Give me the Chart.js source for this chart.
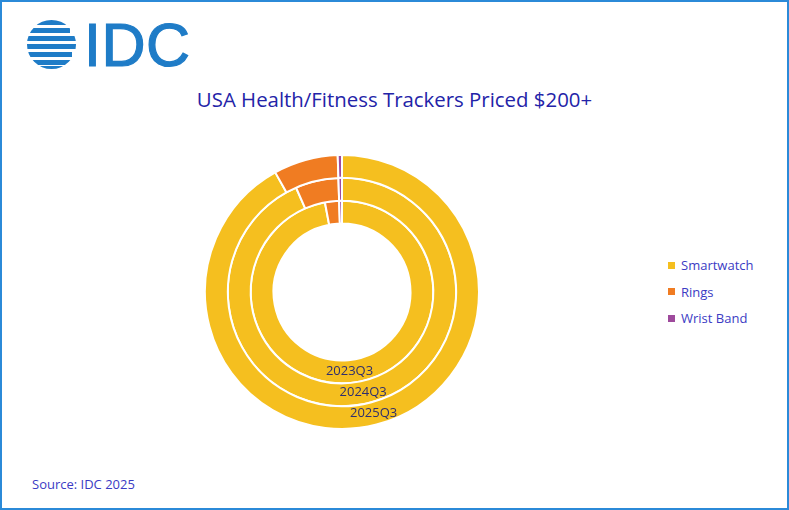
<!DOCTYPE html>
<html>
<head>
<meta charset="utf-8">
<script src="https://cdn.jsdelivr.net/npm/chart.js@4"></script>
<style>
  html, body { margin: 0; padding: 0; background: #fff; }
  #frame {
    position: relative; width: 789px; height: 510px; box-sizing: border-box;
    border: 2px solid #2b8ad8; overflow: hidden; font-family: 'Open Sans', sans-serif;
  }
  #logo { position: absolute; left: -2px; top: -2px; }
  #title {
    position: absolute; left: -2px; width: 789px; top: 83px; text-align: center;
    font-size: 20.4px; color: #2323a8;
  }
  #chartBox { position: absolute; left: 201.5px; top: 152px; width: 276px; height: 276px; }
  #legend { position: absolute; left: 666px; top: 250px; font-size: 13px; color: #3b3bc4; }
  #legend div { height: 26.5px; display: flex; align-items: center; }
  #legend span.sw { display: inline-block; width: 7px; height: 7px; margin-right: 6px; }
  #source { position: absolute; left: 30px; top: 473px; font-size: 13px; color: #3b3bc4; }
</style>
</head>
<body>
<div id="frame">
  <svg id="logo" width="220" height="80" viewBox="0 0 220 80">
    <defs>
      <clipPath id="globe"><circle cx="51.5" cy="44.5" r="24.5"></circle></clipPath>
    </defs>
    <g clip-path="url(#globe)" fill="#1f7cc7">
      <rect x="30" y="20" width="44" height="5"></rect>
      <rect x="24" y="28" width="46" height="5"></rect>
      <rect x="26" y="36" width="52" height="5"></rect>
      <rect x="24" y="44" width="56" height="5"></rect>
      <rect x="26" y="52" width="46" height="5"></rect>
      <rect x="30" y="60" width="48" height="5"></rect>
      <rect x="36" y="66" width="30" height="5"></rect>
    </g>
    <text x="84" y="66" font-family="Liberation Sans, Arial, sans-serif" font-size="61" fill="#1f7cc7"
          stroke="#1f7cc7" stroke-width="1.2" textLength="106">IDC</text>
  </svg>
  <div id="title">USA Health/Fitness Trackers Priced $200+</div>
  <div id="chartBox"><canvas id="chart"></canvas></div>
  <div id="legend"></div>
  <div id="source">Source: IDC 2025</div>
</div>
<script>
  // categories and quarters (outer ring first)
  const categories = ['Smartwatch', 'Rings', 'Wrist Band'];
  const quarters = ['2025Q3', '2024Q3', '2023Q3'];
  const colors = ['#F5BF1F', '#F07C22', '#9E4A9C'];

  // share of units, % per quarter
  const q2025 = [91.9, 7.6, 0.5];
  const q2024 = [93.4, 6.1, 0.5];
  const q2023 = [97.0, 2.5, 0.5];
  const seriesValues = [q2025, q2024, q2023];

  const ringLabels = {
    id: 'ringLabels',
    afterDatasetsDraw(chart) {
      const ctx = chart.ctx;
      ctx.save();
      ctx.font = "13px 'Open Sans', sans-serif";
      ctx.fillStyle = '#2e2e6e';
      ctx.textAlign = 'center';
      ctx.textBaseline = 'middle';
      chart.data.datasets.forEach((ds, i) => {
        const arc = chart.getDatasetMeta(i).data[0];
        const p = arc.tooltipPosition();
        ctx.fillText(ds.label, p.x, p.y);
      });
      ctx.restore();
    },
  };

  new Chart(document.getElementById('chart'), {
    type: 'doughnut',
    data: {
      labels: categories,
      datasets: quarters.map((q, i) => ({
        label: q, data: seriesValues[i],
        backgroundColor: colors, borderColor: '#ffffff', borderWidth: 2,
      })),
    },
    options: {
      responsive: true, maintainAspectRatio: false, animation: false,
      cutout: '50%',
      layout: { padding: 0 },
      plugins: { legend: { display: false }, tooltip: { enabled: false } },
    },
    plugins: [ringLabels],
  });

  const legend = document.getElementById('legend');
  categories.forEach((c, i) => {
    const row = document.createElement('div');
    row.innerHTML = `<span class="sw" style="background:${colors[i]}"></span>${c}`;
    legend.appendChild(row);
  });
</script>
</body>
</html>
